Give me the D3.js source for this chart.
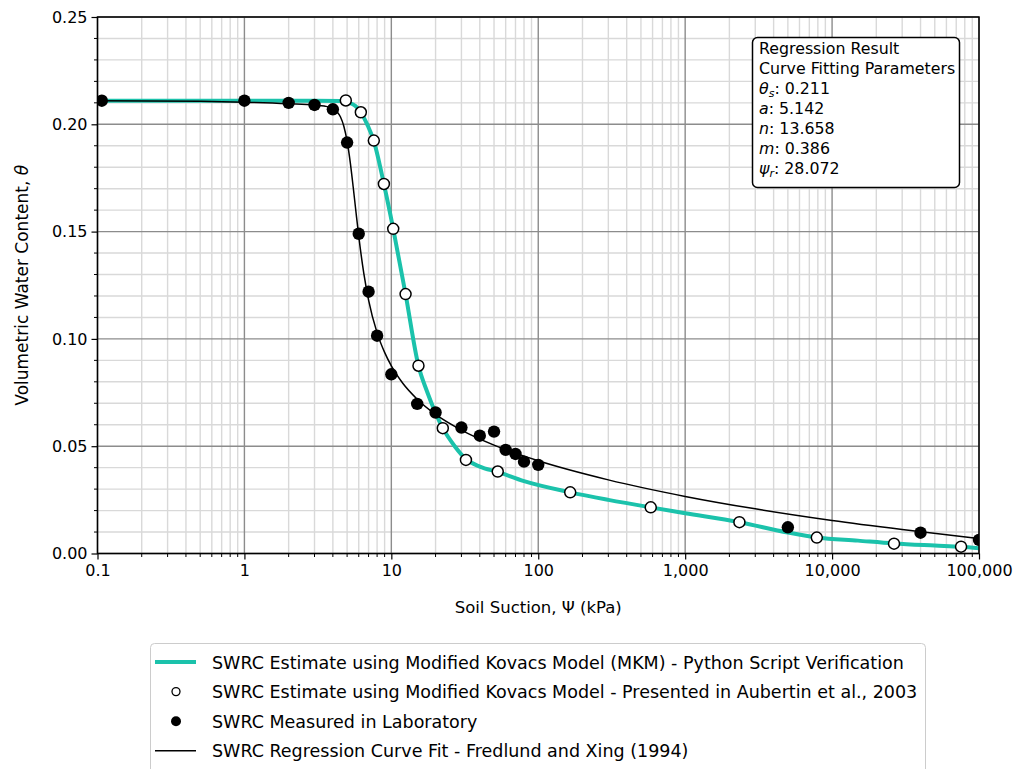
<!DOCTYPE html>
<html>
<head>
<meta charset="utf-8">
<script src="https://cdn.jsdelivr.net/npm/d3@7"></script>
<style>
  body { margin: 0; background: #fff; }
  svg text { font-family: "DejaVu Sans", sans-serif; fill: #000; }
</style>
</head>
<body>
<div id="chart"></div>
<script>
// SWRC measured in the laboratory (suction kPa, volumetric water content)
const labSuction = [0.107, 1, 2, 3, 4, 5, 6, 7, 8, 10, 15, 20, 30, 40, 50, 60, 70, 80, 100, 5000, 40000, 100000];
const labTheta = [0.211, 0.211, 0.210, 0.209, 0.207, 0.1915, 0.149, 0.122, 0.1015, 0.0835, 0.0697, 0.0657, 0.0587, 0.0549, 0.0568, 0.0483, 0.0464, 0.0428, 0.0413, 0.0122, 0.0097, 0.0063];

// MKM estimate as presented in Aubertin et al., 2003
const aubSuction = [4.9, 6.2, 7.6, 8.9, 10.3, 12.5, 15.3, 22.4, 32.2, 53, 165, 583, 2340, 7870, 26400, 75500];
const aubTheta = [0.2111, 0.2056, 0.1924, 0.1722, 0.1513, 0.1209, 0.0875, 0.0584, 0.0436, 0.0382, 0.0285, 0.0215, 0.0146, 0.0074, 0.0046, 0.0032];

// MKM curve from the python script
const mkmSuction = [0.1, 1, 3, 4.5, 5.2, 5.7, 6.2, 6.9, 7.6, 8.9, 10.3, 12.5, 15.3, 17.5, 20, 22.4, 27, 32.2, 40, 53, 80, 165, 300, 583, 1000, 2340, 5000, 7870, 15000, 26400, 50000, 75500, 100000];
const mkmTheta = [0.2110, 0.2110, 0.2110, 0.2108, 0.2100, 0.2085, 0.2055, 0.1995, 0.1922, 0.1722, 0.1513, 0.1209, 0.0875, 0.0755, 0.0655, 0.0584, 0.0500, 0.0440, 0.0405, 0.0380, 0.0337, 0.0285, 0.0250, 0.0215, 0.0188, 0.0146, 0.0098, 0.0075, 0.0060, 0.0047, 0.0037, 0.0031, 0.0024];

// Fredlund & Xing (1994) regression curve
const fxSuction = [0.1, 0.5, 1, 2, 3, 3.5, 4, 4.25, 4.5, 4.75, 5, 5.25, 5.5, 5.75, 6, 6.5, 7, 8, 9, 10, 12, 15, 20, 30, 50, 100, 300, 1000, 3000, 10000, 30000, 100000];
const fxTheta = [0.2110, 0.2107, 0.2103, 0.2096, 0.2090, 0.2085, 0.2074, 0.2060, 0.2035, 0.1991, 0.1921, 0.1824, 0.1708, 0.1589, 0.1479, 0.1304, 0.1181, 0.1028, 0.0937, 0.0874, 0.0792, 0.0719, 0.0648, 0.0575, 0.0505, 0.0432, 0.0343, 0.0266, 0.0208, 0.0154, 0.0112, 0.0070];

const xTicks = [0.1, 1, 10, 100, 1000, 10000, 100000];
const yTicks = [0, 0.05, 0.10, 0.15, 0.20, 0.25];

const legendLabels = [
  "SWRC Estimate using Modified Kovacs Model (MKM) - Python Script Verification",
  "SWRC Estimate using Modified Kovacs Model - Presented in Aubertin et al., 2003",
  "SWRC Measured in Laboratory",
  "SWRC Regression Curve Fit - Fredlund and Xing (1994)"
];

const teal = "#1bc2ab";
const W = 1020, H = 769;
const pLeft = 97.5, pRight = 979, pTop = 17, pBottom = 553.5;

const svg = d3.select("#chart").append("svg")
  .attr("width", W).attr("height", H);

const x = d3.scaleLog().domain([0.1, 100000]).range([pLeft, pRight]);
const y = d3.scaleLinear().domain([0, 0.25]).range([pBottom, pTop]);

// minor values
const xMinor = [];
for (let e = -1; e < 5; e++) for (let k = 2; k <= 9; k++) xMinor.push(k * Math.pow(10, e));
const yMinor = d3.range(0, 26).map(i => i / 100).filter(v => Math.round(v * 100) % 5 !== 0);

// grid
const grid = svg.append("g");
grid.selectAll(".xm").data(xMinor).enter().append("line")
  .attr("x1", d => x(d)).attr("x2", d => x(d)).attr("y1", pTop).attr("y2", pBottom)
  .attr("stroke", "#d9d9d9").attr("stroke-width", 1.4);
grid.selectAll(".ym").data(yMinor).enter().append("line")
  .attr("y1", d => y(d)).attr("y2", d => y(d)).attr("x1", pLeft).attr("x2", pRight)
  .attr("stroke", "#d9d9d9").attr("stroke-width", 1.4);
grid.selectAll(".xM").data(xTicks).enter().append("line")
  .attr("x1", d => x(d)).attr("x2", d => x(d)).attr("y1", pTop).attr("y2", pBottom)
  .attr("stroke", "#8c8c8c").attr("stroke-width", 1.4);
grid.selectAll(".yM").data(yTicks).enter().append("line")
  .attr("y1", d => y(d)).attr("y2", d => y(d)).attr("x1", pLeft).attr("x2", pRight)
  .attr("stroke", "#8c8c8c").attr("stroke-width", 1.4);

// clip for data
svg.append("clipPath").attr("id", "plot")
  .append("rect").attr("x", pLeft).attr("y", pTop).attr("width", pRight - pLeft).attr("height", pBottom - pTop);
const plot = svg.append("g").attr("clip-path", "url(#plot)");

const line = d3.line().x(d => x(d[0])).y(d => y(d[1])).curve(d3.curveMonotoneX);

plot.append("path").datum(d3.zip(mkmSuction, mkmTheta))
  .attr("d", line).attr("fill", "none").attr("stroke", teal).attr("stroke-width", 4);
plot.append("path").datum(d3.zip(fxSuction, fxTheta))
  .attr("d", line).attr("fill", "none").attr("stroke", "#000").attr("stroke-width", 1.5);

plot.selectAll(".aub").data(d3.zip(aubSuction, aubTheta)).enter().append("circle")
  .attr("cx", d => x(d[0])).attr("cy", d => y(d[1])).attr("r", 5.5)
  .attr("fill", "#fff").attr("stroke", "#000").attr("stroke-width", 1.5);
plot.selectAll(".lab").data(d3.zip(labSuction, labTheta)).enter().append("circle")
  .attr("cx", d => x(d[0])).attr("cy", d => y(d[1])).attr("r", 6.2)
  .attr("fill", "#000");

// axes
const xAxis = d3.axisBottom(x).tickValues(xTicks).tickFormat(d3.format(",")).tickSize(6).tickPadding(5);
const gx = svg.append("g").attr("transform", `translate(0,${pBottom})`).call(xAxis);
gx.selectAll(".minor").data(xMinor).enter().append("line").attr("class", "minor")
  .attr("x1", d => x(d)).attr("x2", d => x(d)).attr("y1", 0).attr("y2", 3.5)
  .attr("stroke", "#000").attr("stroke-width", 1);

const yAxis = d3.axisLeft(y).tickValues(yTicks).tickFormat(d3.format(".2f")).tickSize(6).tickPadding(4);
const gy = svg.append("g").attr("transform", `translate(${pLeft},0)`).call(yAxis);
gy.selectAll(".minor").data(yMinor).enter().append("line").attr("class", "minor")
  .attr("x1", 0).attr("x2", -3.5).attr("y1", d => y(d)).attr("y2", d => y(d))
  .attr("stroke", "#000").attr("stroke-width", 1);

[gx, gy].forEach(g => {
  g.select(".domain").remove();
  g.selectAll(".tick line").attr("stroke-width", 1.2);
  g.selectAll("text").style("font-size", "16px");
});

// frame
svg.append("rect").attr("x", pLeft).attr("y", pTop).attr("width", pRight - pLeft).attr("height", pBottom - pTop)
  .attr("fill", "none").attr("stroke", "#000").attr("stroke-width", 1.5);

// axis titles
svg.append("text").attr("x", (pLeft + pRight) / 2).attr("y", 613)
  .attr("text-anchor", "middle").style("font-size", "16.5px")
  .text("Soil Suction, \u03A8 (kPa)");
const yt = svg.append("text")
  .attr("transform", `translate(28,${(pTop + pBottom) / 2}) rotate(-90)`)
  .attr("text-anchor", "middle").style("font-size", "17px");
yt.append("tspan").text("Volumetric Water Content, ");
yt.append("tspan").style("font-style", "italic").text("\u03B8");

// regression parameters box
const box = svg.append("g");
box.append("rect").attr("x", 752.5).attr("y", 37.5).attr("width", 207).attr("height", 150).attr("rx", 5)
  .attr("fill", "#fff").attr("stroke", "#000").attr("stroke-width", 1.5);
const params = [
  { sym: "\u03B8", sub: "s", val: ": 0.211" },
  { sym: "a", val: ": 5.142" },
  { sym: "n", val: ": 13.658" },
  { sym: "m", val: ": 0.386" },
  { sym: "\u03C8", sub: "r", val: ": 28.072" }
];
const bx = 759, by = 54, step = 20;
const boxFont = "15.8px";
box.append("text").attr("x", bx).attr("y", by).style("font-size", boxFont).text("Regression Result");
box.append("text").attr("x", bx).attr("y", by + step).style("font-size", boxFont).text("Curve Fitting Parameters");
params.forEach((p, i) => {
  const t = box.append("text").attr("x", bx).attr("y", by + step * (i + 2)).style("font-size", boxFont);
  t.append("tspan").style("font-style", "italic").text(p.sym);
  if (p.sub) {
    t.append("tspan").style("font-style", "italic").style("font-size", "11px").attr("dy", 3).text(p.sub);
    t.append("tspan").attr("dy", -3).text(p.val);
  } else {
    t.append("tspan").text(p.val);
  }
});

// legend
const lg = svg.append("g");
lg.append("rect").attr("x", 150.5).attr("y", 643.5).attr("width", 775).attr("height", 160).attr("rx", 4)
  .attr("fill", "#fff").attr("stroke", "#cccccc").attr("stroke-width", 1);
const ly = d => 662 + d * 29.6;
lg.append("line").attr("x1", 155).attr("x2", 196).attr("y1", ly(0)).attr("y2", ly(0))
  .attr("stroke", teal).attr("stroke-width", 4);
lg.append("circle").attr("cx", 176).attr("cy", ly(1)).attr("r", 4)
  .attr("fill", "#fff").attr("stroke", "#000").attr("stroke-width", 1.3);
lg.append("circle").attr("cx", 176).attr("cy", ly(2)).attr("r", 5).attr("fill", "#000");
lg.append("line").attr("x1", 155).attr("x2", 196).attr("y1", ly(3)).attr("y2", ly(3))
  .attr("stroke", "#000").attr("stroke-width", 1.5);
lg.selectAll(".lt").data(legendLabels).enter().append("text")
  .attr("x", 212).attr("y", (d, i) => ly(i) + 6.5).style("font-size", "17.5px").text(d => d);
</script>
</body>
</html>
